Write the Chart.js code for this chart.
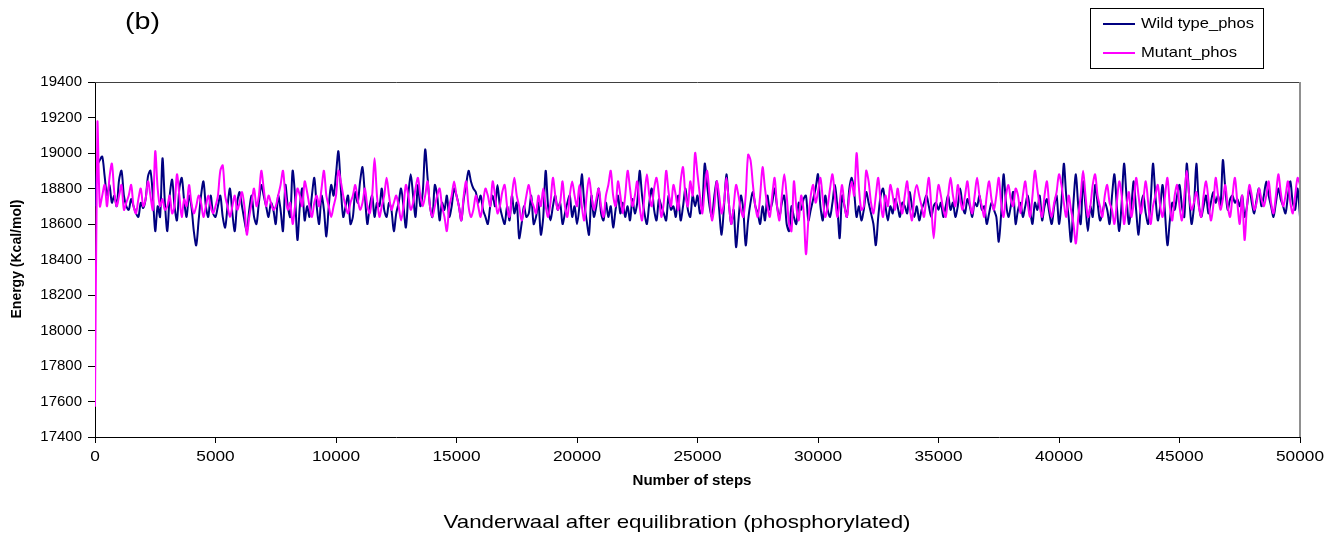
<!DOCTYPE html>
<html>
<head>
<meta charset="utf-8">
<script src="https://cdn.jsdelivr.net/npm/chart.js@4/dist/chart.umd.min.js"></script>
<style>
  html, body { margin: 0; padding: 0; background: #fff; }
  #wrap { width: 1339px; height: 541px; }
</style>
</head>
<body>
<div id="wrap"><canvas id="chart" width="1339" height="541"></canvas></div>
<script>
// energy samples, one every 100 steps (0 .. 50000)
const stepInterval = 100;

const wildType = [
  18700, 18930, 18960, 18980, 18870, 18760, 18820, 18720, 18760, 18700, 18850, 18900, 18760, 18700, 18680, 18740, 18700, 18660, 18640, 18720, 18690, 18740, 18870, 18900, 18760,
  18560, 18700, 18640, 18970, 18720, 18560, 18760, 18850, 18700, 18620, 18800, 18860, 18730, 18640, 18760, 18700, 18560, 18480, 18620, 18760, 18840, 18700, 18640, 18760, 18660,
  18640, 18700, 18760, 18640, 18580, 18700, 18800, 18660, 18560, 18720, 18780, 18700, 18620, 18560, 18680, 18760, 18640, 18600, 18720, 18820, 18760, 18700, 18640, 18720, 18680,
  18600, 18760, 18680, 18560, 18820, 18700, 18640, 18900, 18760, 18510, 18700, 18800, 18620, 18700, 18640, 18760, 18860, 18700, 18600, 18760, 18680, 18530, 18700, 18820, 18760,
  18880, 19010, 18800, 18640, 18700, 18760, 18600, 18640, 18780, 18720, 18840, 18920, 18760, 18600, 18700, 18760, 18640, 18720, 18700, 18800, 18680, 18640, 18720, 18680, 18560,
  18660, 18720, 18800, 18700, 18580, 18760, 18880, 18760, 18640, 18820, 18700, 18780, 19020, 18860, 18700, 18640, 18820, 18760, 18620, 18720, 18680, 18760, 18640, 18700, 18800,
  18760, 18700, 18620, 18740, 18820, 18900, 18840, 18800, 18780, 18720, 18760, 18680, 18640, 18600, 18700, 18760, 18700, 18820, 18700, 18640, 18600, 18700, 18620, 18760, 18660,
  18720, 18520, 18600, 18700, 18640, 18660, 18760, 18600, 18640, 18720, 18540, 18640, 18900, 18700, 18620, 18700, 18760, 18680, 18720, 18600, 18660, 18720, 18760, 18640, 18700,
  18600, 18700, 18880, 18720, 18620, 18540, 18760, 18640, 18700, 18800, 18660, 18620, 18720, 18640, 18700, 18580, 18680, 18760, 18660, 18720, 18640, 18700, 18620, 18740, 18660,
  18720, 18900, 18760, 18660, 18600, 18720, 18800, 18680, 18620, 18740, 18700, 18660, 18620, 18760, 18680, 18700, 18640, 18760, 18620, 18700, 18800, 18680, 18640, 18760, 18700,
  18760, 18660, 18700, 18940, 18820, 18700, 18640, 18760, 18840, 18680, 18540, 18700, 18880, 18720, 18600, 18680, 18470, 18620, 18760, 18680, 18480, 18620, 18720, 18780, 18700,
  18660, 18600, 18700, 18620, 18760, 18680, 18720, 18800, 18700, 18640, 18720, 18760, 18600, 18560, 18700, 18640, 18600, 18720, 18680, 18740, 18760, 18620, 18680, 18740, 18800,
  18880, 18700, 18620, 18760, 18680, 18640, 18720, 18820, 18700, 18520, 18760, 18700, 18640, 18800, 18860, 18780, 18640, 18700, 18620, 18680, 18780, 18720, 18660, 18600, 18480,
  18640, 18760, 18800, 18700, 18620, 18700, 18660, 18740, 18700, 18640, 18720, 18700, 18660, 18780, 18700, 18640, 18700, 18620, 18680, 18720, 18760, 18700, 18640, 18700, 18720,
  18680, 18720, 18640, 18700, 18760, 18680, 18720, 18640, 18700, 18800, 18700, 18660, 18740, 18700, 18640, 18720, 18700, 18760, 18680, 18700, 18600, 18660, 18720, 18680, 18640,
  18500, 18660, 18880, 18720, 18640, 18700, 18780, 18600, 18680, 18720, 18640, 18700, 18760, 18680, 18600, 18720, 18680, 18760, 18620, 18700, 18740, 18660, 18600, 18700, 18760,
  18600, 18720, 18940, 18760, 18640, 18500, 18720, 18880, 18700, 18600, 18840, 18700, 18560, 18700, 18640, 18820, 18720, 18620, 18660, 18720, 18680, 18600, 18760, 18880, 18700,
  18560, 18720, 18940, 18760, 18600, 18700, 18840, 18680, 18540, 18700, 18760, 18660, 18600, 18720, 18940, 18760, 18620, 18700, 18820, 18660, 18480, 18620, 18720, 18680, 18760,
  18820, 18700, 18640, 18940, 18760, 18600, 18700, 18940, 18720, 18640, 18700, 18760, 18660, 18720, 18780, 18720, 18760, 18700, 18960, 18800, 18680, 18740, 18760, 18720, 18740,
  18700, 18760, 18640, 18700, 18800, 18720, 18660, 18740, 18800, 18700, 18760, 18840, 18760, 18700, 18640, 18720, 18800, 18740, 18700, 18660, 18760, 18840, 18720, 18680, 18800,
  18640
];

const mutant = [
  17570, 19170, 18700, 18760, 18820, 18700, 18860, 18940, 18780, 18700, 18760, 18820, 18680, 18720, 18760, 18820, 18700, 18660, 18740, 18800, 18700, 18740, 18840, 18760, 18680,
  19010, 18800, 18700, 18740, 18680, 18700, 18760, 18660, 18700, 18880, 18760, 18640, 18740, 18700, 18820, 18720, 18660, 18700, 18760, 18720, 18640, 18700, 18760, 18700, 18660,
  18700, 18760, 18900, 18930, 18760, 18700, 18640, 18700, 18760, 18680, 18720, 18780, 18700, 18540, 18640, 18720, 18800, 18700, 18760, 18900, 18800, 18700, 18760, 18720, 18680,
  18700, 18760, 18820, 18900, 18760, 18680, 18720, 18600, 18700, 18800, 18760, 18700, 18840, 18780, 18700, 18640, 18720, 18760, 18700, 18800, 18900, 18760, 18700, 18640, 18700,
  18760, 18900, 18840, 18760, 18700, 18660, 18720, 18760, 18820, 18740, 18680, 18720, 18800, 18700, 18660, 18760, 18970, 18760, 18640, 18700, 18760, 18860, 18760, 18680, 18720,
  18760, 18700, 18620, 18700, 18820, 18760, 18680, 18720, 18800, 18860, 18760, 18700, 18760, 18840, 18700, 18640, 18700, 18760, 18800, 18700, 18640, 18560, 18700, 18760, 18840,
  18760, 18700, 18620, 18760, 18840, 18700, 18640, 18680, 18760, 18700, 18640, 18720, 18800, 18760, 18700, 18840, 18760, 18660, 18700, 18780, 18820, 18700, 18640, 18760, 18860,
  18760, 18700, 18620, 18680, 18760, 18820, 18740, 18700, 18660, 18760, 18700, 18800, 18700, 18640, 18720, 18860, 18760, 18680, 18720, 18840, 18700, 18640, 18760, 18840, 18760,
  18700, 18820, 18700, 18620, 18760, 18860, 18760, 18680, 18740, 18800, 18700, 18640, 18760, 18820, 18900, 18760, 18700, 18840, 18760, 18660, 18760, 18900, 18800, 18700, 18760,
  18840, 18700, 18620, 18760, 18880, 18760, 18700, 18800, 18860, 18760, 18640, 18720, 18900, 18780, 18700, 18820, 18760, 18680, 18840, 18920, 18760, 18700, 18840, 18760, 19000,
  18880, 18760, 18660, 18800, 18900, 18760, 18620, 18700, 18840, 18760, 18660, 18720, 18860, 18720, 18600, 18700, 18820, 18760, 18680, 18640, 18760, 18990, 18960, 18820, 18700,
  18640, 18760, 18920, 18800, 18700, 18640, 18760, 18860, 18700, 18620, 18760, 18880, 18760, 18600, 18560, 18840, 18700, 18620, 18760, 18680, 18430, 18620, 18760, 18820, 18720,
  18780, 18860, 18740, 18640, 18700, 18800, 18880, 18760, 18640, 18720, 18820, 18700, 18640, 18760, 18840, 18760, 19000, 18800, 18680, 18700, 18900, 18840, 18720, 18660, 18760,
  18860, 18720, 18640, 18760, 18700, 18820, 18760, 18680, 18800, 18720, 18660, 18760, 18840, 18700, 18620, 18760, 18820, 18760, 18700, 18640, 18760, 18860, 18700, 18520, 18700,
  18820, 18760, 18680, 18640, 18760, 18860, 18760, 18700, 18820, 18740, 18680, 18760, 18840, 18720, 18660, 18760, 18860, 18760, 18700, 18640, 18760, 18840, 18740, 18680, 18760,
  18860, 18720, 18640, 18760, 18820, 18740, 18700, 18800, 18760, 18660, 18760, 18840, 18720, 18640, 18760, 18900, 18800, 18700, 18640, 18760, 18840, 18700, 18640, 18720, 18780,
  18880, 18820, 18720, 18640, 18760, 18680, 18600, 18490, 18640, 18760, 18900, 18760, 18640, 18700, 18820, 18880, 18760, 18700, 18640, 18760, 18820, 18720, 18680, 18600, 18720,
  18840, 18760, 18600, 18700, 18780, 18640, 18720, 18860, 18760, 18660, 18740, 18840, 18720, 18600, 18700, 18760, 18820, 18700, 18640, 18760, 18860, 18700, 18620, 18760, 18820,
  18700, 18620, 18760, 18900, 18760, 18680, 18720, 18780, 18700, 18640, 18760, 18840, 18740, 18620, 18700, 18860, 18760, 18680, 18740, 18820, 18700, 18640, 18760, 18860, 18720,
  18600, 18760, 18510, 18700, 18820, 18760, 18680, 18720, 18800, 18740, 18700, 18760, 18840, 18720, 18660, 18760, 18880, 18780, 18700, 18760, 18840, 18720, 18660, 18760, 18860,
  18820
];

const seriesNames = ["Wild type_phos", "Mutant_phos"];
const seriesColors = ["#000080", "#ff00ff"];
const xTicks = [0, 5000, 10000, 15000, 20000, 25000, 30000, 35000, 40000, 45000, 50000];
const yTicks = [17400, 17600, 17800, 18000, 18200, 18400, 18600, 18800, 19000, 19200, 19400];

const panelLabel = "(b)";
const xTitle = "Number of steps";
const yTitle = "Energy (Kcal/mol)";
const caption = "Vanderwaal after equilibration (phosphorylated)";

const FONT = "'Liberation Sans', Arial, sans-serif";

function toPoints(values) {
  return values.map((v, i) => ({ x: i * stepInterval, y: v }));
}

// text squeezed/stretched to a given width (the source picture is wider than tall)
function putText(ctx, s, x, y, font, align, width) {
  ctx.save();
  ctx.font = font;
  const w = ctx.measureText(s).width;
  const sx = width ? width / w : 1;
  ctx.translate(x, y);
  ctx.scale(sx, 1);
  ctx.textAlign = align;
  ctx.textBaseline = "middle";
  ctx.fillStyle = "#000";
  ctx.fillText(s, 0, 0);
  ctx.restore();
}

const decor = {
  id: "decor",
  beforeDraw(chart) {
    const ctx = chart.ctx;
    ctx.save();
    ctx.fillStyle = "#fff";
    ctx.fillRect(0, 0, chart.width, chart.height);
    ctx.restore();
  },
  afterDraw(chart) {
    const ctx = chart.ctx;
    const a = chart.chartArea;
    const xs = chart.scales.x;

    // top / right frame of plot area
    ctx.save();
    ctx.lineWidth = 1;
    ctx.strokeStyle = "#404040";
    ctx.beginPath();
    ctx.moveTo(a.left, a.top + 0.5);
    ctx.lineTo(a.right, a.top + 0.5);
    ctx.stroke();
    ctx.strokeStyle = "#909090";
    ctx.lineWidth = 2;
    ctx.beginPath();
    ctx.moveTo(a.right, a.top);
    ctx.lineTo(a.right, a.bottom);
    ctx.stroke();
    ctx.restore();

    // x tick labels
    xTicks.forEach(v => {
      const s = String(v);
      putText(ctx, s, xs.getPixelForValue(v), 457, "14px " + FONT, "center", s.length * 9.6);
    });

    // axis titles
    putText(ctx, xTitle, 692, 481, "bold 14px " + FONT, "center", 119);
    ctx.save();
    ctx.translate(17, 259);
    ctx.rotate(-Math.PI / 2);
    ctx.font = "bold 14px " + FONT;
    ctx.textAlign = "center";
    ctx.textBaseline = "middle";
    ctx.fillStyle = "#000";
    ctx.fillText(yTitle, 0, 0);
    ctx.restore();

    // panel label and caption
    putText(ctx, panelLabel, 125, 22, "24px " + FONT, "left", 35);
    putText(ctx, caption, 677, 523, "19px " + FONT, "center", 467);

    // legend box
    ctx.save();
    ctx.strokeStyle = "#000";
    ctx.lineWidth = 1;
    ctx.strokeRect(1090.5, 8.5, 173, 60);
    const rows = [24, 53];
    const widths = [113, 96];
    seriesNames.forEach((name, i) => {
      ctx.strokeStyle = seriesColors[i];
      ctx.lineWidth = 2;
      ctx.beginPath();
      ctx.moveTo(1103, rows[i]);
      ctx.lineTo(1135, rows[i]);
      ctx.stroke();
      putText(ctx, name, 1141, rows[i], "15px " + FONT, "left", widths[i]);
    });
    ctx.restore();
  }
};

new Chart(document.getElementById("chart"), {
  type: "line",
  data: {
    datasets: [
      {
        label: seriesNames[0],
        data: toPoints(wildType),
        borderColor: seriesColors[0],
        borderWidth: 2,
        pointRadius: 0,
        tension: 0.3,
        order: 2
      },
      {
        label: seriesNames[1],
        data: toPoints(mutant),
        borderColor: seriesColors[1],
        borderWidth: 2,
        pointRadius: 0,
        tension: 0.3,
        order: 1
      }
    ]
  },
  options: {
    responsive: false,
    animation: false,
    events: [],
    layout: { padding: { top: 82, right: 39, left: 0, bottom: 0 } },
    plugins: {
      legend: { display: false },
      tooltip: { enabled: false },
      title: { display: false }
    },
    scales: {
      x: {
        type: "linear",
        min: 0,
        max: 50000,
        afterFit: s => { s.height = 104; },
        afterBuildTicks: s => { s.ticks = xTicks.map(v => ({ value: v })); },
        ticks: { display: false },
        grid: { drawOnChartArea: false, drawTicks: true, tickLength: 6, color: "#000" },
        border: { color: "#000", width: 1 }
      },
      y: {
        min: 17400,
        max: 19400,
        afterFit: s => { s.width = 95; },
        afterBuildTicks: s => { s.ticks = yTicks.map(v => ({ value: v })); },
        ticks: {
          color: "#000",
          padding: 6,
          font: { family: FONT, size: 15 },
          callback: v => String(v)
        },
        grid: { drawOnChartArea: false, drawTicks: true, tickLength: 7, color: "#000" },
        border: { color: "#000", width: 1 }
      }
    }
  },
  plugins: [decor]
});
</script>
</body>
</html>
